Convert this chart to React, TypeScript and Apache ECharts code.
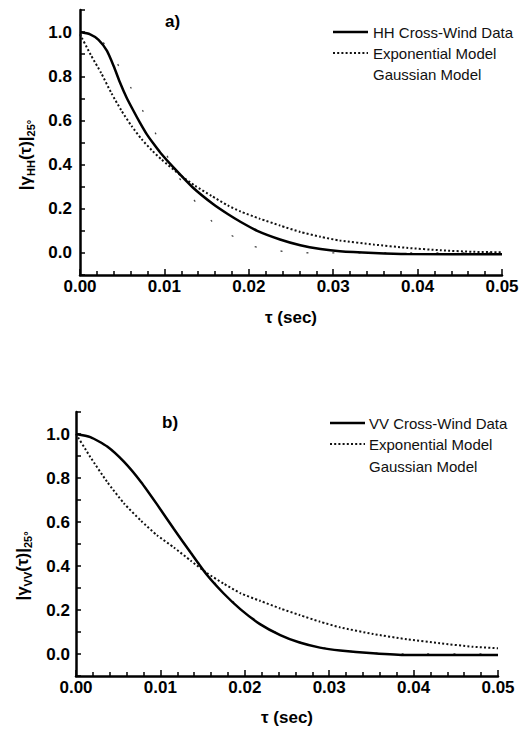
import React, { useEffect, useRef } from 'react';
import * as echarts from 'echarts';

// ---------- Panel a) HH ----------
const hhDataTau = [0, 0.0012, 0.0022, 0.0032, 0.004, 0.0047, 0.0055, 0.0063, 0.0071, 0.0079, 0.0087, 0.0095, 0.0111, 0.0134, 0.0158, 0.0175, 0.019, 0.021, 0.0237, 0.0261, 0.0285, 0.0308, 0.0348, 0.0387, 0.05];
const hhDataVal = [1.0, 0.99, 0.965, 0.915, 0.845, 0.775, 0.705, 0.646, 0.59, 0.538, 0.495, 0.455, 0.386, 0.295, 0.22, 0.176, 0.141, 0.1, 0.061, 0.035, 0.018, 0.008, 0.0, -0.005, -0.006];

const hhExpTau = [0, 0.0013, 0.0025, 0.0037, 0.0049, 0.0061, 0.0073, 0.0085, 0.0096, 0.0119, 0.0136, 0.0156, 0.0175, 0.019, 0.0213, 0.0237, 0.0261, 0.0285, 0.0308, 0.0348, 0.0387, 0.0427, 0.0466, 0.05];
const hhExpVal = [0.99, 0.895, 0.815, 0.725, 0.645, 0.575, 0.515, 0.465, 0.425, 0.352, 0.305, 0.258, 0.215, 0.188, 0.155, 0.124, 0.095, 0.073, 0.056, 0.038, 0.023, 0.012, 0.005, 0.003];

const hhGaussTau = [0, 0.0015, 0.0027, 0.004, 0.006, 0.0079, 0.0089, 0.011, 0.013, 0.016, 0.0193, 0.0205, 0.0243, 0.0277, 0.035, 0.05];
const hhGaussVal = [1.0, 0.985, 0.955, 0.885, 0.75, 0.61, 0.545, 0.39, 0.265, 0.129, 0.049, 0.03, 0.006, 0.0, 0.0, 0.0];

// ---------- Panel b) VV ----------
const vvDataTau = [0, 0.0017, 0.0037, 0.0057, 0.0077, 0.0096, 0.0116, 0.0136, 0.0155, 0.0175, 0.0195, 0.0218, 0.0242, 0.0265, 0.0289, 0.0313, 0.0352, 0.0392, 0.05];
const vvDataVal = [1.0, 0.986, 0.943, 0.873, 0.782, 0.68, 0.568, 0.46, 0.36, 0.275, 0.203, 0.136, 0.086, 0.052, 0.029, 0.016, 0.003, -0.005, -0.005];

const vvExpTau = [0, 0.0017, 0.0037, 0.0057, 0.0077, 0.0096, 0.0116, 0.0136, 0.0155, 0.0175, 0.0195, 0.0218, 0.0242, 0.0265, 0.0289, 0.0313, 0.0352, 0.0392, 0.0431, 0.047, 0.05];
const vvExpVal = [1.0, 0.895, 0.782, 0.684, 0.606, 0.54, 0.484, 0.424, 0.368, 0.32, 0.276, 0.242, 0.207, 0.177, 0.147, 0.121, 0.091, 0.067, 0.049, 0.033, 0.026];

const vvGaussTau = [0, 0.002, 0.004, 0.006, 0.008, 0.01, 0.012, 0.014, 0.016, 0.018, 0.02, 0.022, 0.024, 0.026, 0.028, 0.03, 0.033, 0.036, 0.04, 0.05];
const vvGaussVal = [1.0, 0.983, 0.935, 0.862, 0.767, 0.658, 0.546, 0.44, 0.343, 0.26, 0.19, 0.133, 0.092, 0.061, 0.038, 0.023, 0.01, 0.003, 0.0, 0.0];

// ---------- Labels ----------
const xTickDecimals = 2;
const yLabelValues = [0.0, 0.2, 0.4, 0.6, 0.8, 1.0];
const legendTop = ['HH Cross-Wind Data', 'Exponential Model', 'Gaussian Model'];
const legendBottom = ['VV Cross-Wind Data', 'Exponential Model', 'Gaussian Model'];
const panelTitles = ['a)', 'b)'];
const xAxisTitle = 'τ (sec)';

const pairs = (t: number[], v: number[]) => t.map((x, i) => [x, v[i]]);

const FONT = 'Arial, "Liberation Sans", Helvetica, sans-serif';

const dataStyle = { color: '#000', width: 2.5, type: 'solid' as any };
const expStyle = { color: '#111', width: 2, type: [2, 2.2] as any };
const gaussStyle = { color: '#444', width: 1.3, type: [2, 24] as any };

export default function App() {
  const ref = useRef<HTMLDivElement>(null);

  useEffect(() => {
    const chart = echarts.init(ref.current!, null, { renderer: 'svg' });

    const yFmt = (v: number) => {
      const hit = yLabelValues.find((y) => Math.abs(y - v) < 1e-6);
      return hit === undefined ? '' : hit.toFixed(1);
    };

    const xAxis = (gridIndex: number, gap: number) => ({
      type: 'value',
      gridIndex,
      min: 0,
      max: 0.05,
      interval: 0.01,
      axisLine: { show: true, onZero: false, lineStyle: { color: '#000', width: 2.5 } },
      axisTick: { show: true, inside: true, length: 6, lineStyle: { color: '#000', width: 1.5 } },
      minorTick: { show: true, splitNumber: 5, length: 4, lineStyle: { color: '#000', width: 1.5 } },
      axisLabel: {
        formatter: (v: number) => v.toFixed(xTickDecimals),
        fontSize: 17,
        fontWeight: 'bold',
        color: '#000',
        fontFamily: FONT,
        margin: 3,
      },
      splitLine: { show: false },
      name: xAxisTitle,
      nameLocation: 'middle',
      nameGap: gap,
      nameTextStyle: { fontSize: 17, fontWeight: 'bold', color: '#000', fontFamily: FONT },
    });

    const yAxis = (gridIndex: number, sub: string, gap: number, pad: number, margin: number) => ({
      type: 'value',
      gridIndex,
      min: -0.1,
      max: 1.1,
      interval: 0.1,
      axisLine: { show: true, onZero: false, lineStyle: { color: '#000', width: 2.5 } },
      axisTick: { show: true, inside: true, length: 5, lineStyle: { color: '#000', width: 1.5 } },
      axisLabel: {
        formatter: yFmt,
        fontSize: 17,
        fontWeight: 'bold',
        color: '#000',
        fontFamily: FONT,
        margin,
      },
      splitLine: { show: false },
      name: `{m||γ}{s|${sub}}{m|(τ)|}{s|25°}`,
      nameLocation: 'middle',
      nameGap: gap,
      nameTextStyle: {
        padding: [0, pad, 0, 0],
        rich: {
          m: { fontSize: 17, fontWeight: 'bold', fontFamily: FONT, color: '#000', lineHeight: 22 },
          s: { fontSize: 11, fontWeight: 'bold', fontFamily: FONT, color: '#000', lineHeight: 12, verticalAlign: 'bottom' },
        },
      },
    });

    const line = (name: string, idx: number, data: number[][], ls: any, z: number) => ({
      type: 'line',
      name,
      xAxisIndex: idx,
      yAxisIndex: idx,
      data,
      showSymbol: false,
      symbol: 'none',
      smooth: 0.2,
      lineStyle: ls,
      itemStyle: { color: ls.color },
      z,
    });

    // legend drawn as graphics (line sample + text), Gaussian row has no sample line
    const legendGraphic = (names: string[], lineX: number, textX: number, rows: number[]) => {
      const els: any[] = [];
      const styles = [dataStyle, expStyle, null];
      names.forEach((n, i) => {
        const st = styles[i];
        if (st) {
          els.push({
            type: 'line',
            shape: { x1: lineX, y1: rows[i], x2: lineX + 35, y2: rows[i] },
            style: {
              stroke: st.color,
              lineWidth: st.width,
              lineDash: Array.isArray(st.type) ? st.type : null,
            },
          });
        }
        els.push({
          type: 'text',
          x: textX,
          y: rows[i],
          style: { text: n, fontSize: 15, fontFamily: FONT, fill: '#111', verticalAlign: 'middle', align: 'left' },
        });
      });
      return els;
    };

    chart.setOption({
      animation: false,
      backgroundColor: '#fff',
      title: [
        { text: panelTitles[0], left: 165, top: 13, padding: 0, textStyle: { fontSize: 17, fontWeight: 'bold', color: '#000', fontFamily: FONT } },
        { text: panelTitles[1], left: 162, top: 414, padding: 0, textStyle: { fontSize: 17, fontWeight: 'bold', color: '#000', fontFamily: FONT } },
      ],
      graphic: [
        ...legendGraphic(legendTop, 333, 373, [32, 53, 74]),
        ...legendGraphic(legendBottom, 330, 369, [423, 444, 466]),
      ],
      grid: [
        { left: 80, top: 10, width: 422, height: 265 },
        { left: 76, top: 412, width: 422, height: 264 },
      ],
      xAxis: [xAxis(0, 34), xAxis(1, 33)],
      yAxis: [yAxis(0, 'HH', 44, 25, 8), yAxis(1, 'VV', 43, 44, 6)],
      series: [
        line(legendTop[0], 0, pairs(hhDataTau, hhDataVal), dataStyle, 3),
        line(legendTop[1], 0, pairs(hhExpTau, hhExpVal), expStyle, 2),
        line(legendTop[2], 0, pairs(hhGaussTau, hhGaussVal), gaussStyle, 1),
        line(legendBottom[0], 1, pairs(vvDataTau, vvDataVal), dataStyle, 3),
        line(legendBottom[1], 1, pairs(vvExpTau, vvExpVal), expStyle, 2),
        line(legendBottom[2], 1, pairs(vvGaussTau, vvGaussVal), gaussStyle, 1),
      ],
    });

    return () => chart.dispose();
  }, []);

  return (
    <div
      ref={ref}
      style={{ position: 'fixed', left: 0, top: 0, width: 529, height: 732, background: '#fff' }}
    />
  );
}
